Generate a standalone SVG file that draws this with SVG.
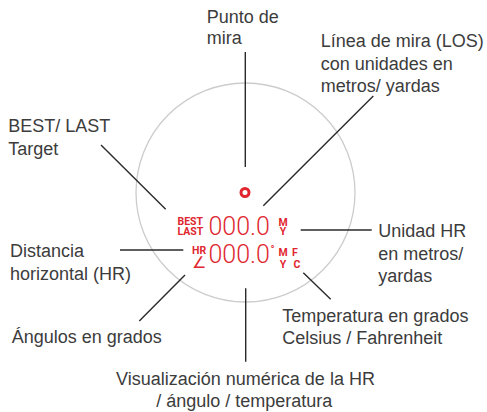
<svg xmlns="http://www.w3.org/2000/svg" width="487" height="412" viewBox="0 0 487 412">
<style>
.lbl{font-family:"Liberation Sans",Arial,sans-serif;font-size:18px;fill:#3c3c3c}
.ld{stroke:#2a2a2a;stroke-width:1.4;fill:none}
.big{font-family:Roboto,"Liberation Sans",sans-serif;font-size:25px;font-weight:300;fill:#e0262f}
.sm{font-family:Roboto,"Liberation Sans",sans-serif;font-size:10.5px;font-weight:700;fill:#e0262f}
</style>
<rect width="487" height="412" fill="#ffffff"/>
<g id="display">
<circle cx="245.5" cy="192.5" r="109.5" fill="none" stroke="#cccccc" stroke-width="1.3"/>
<circle cx="245" cy="192.5" r="4" fill="none" stroke="#e0262f" stroke-width="3"/>
<text class="sm"><tspan x="177.5" y="225">BEST</tspan><tspan x="177.5" y="234.5">LAST</tspan></text>
<text class="big" x="208.5" y="234.5">000.0</text>
<text class="sm" text-anchor="middle"><tspan x="283" y="225.5">M</tspan><tspan x="283" y="235">Y</tspan></text>
<text><tspan class="sm" x="192" y="253.5">HR</tspan><tspan x="192" y="268" style="font-family:'DejaVu Sans',sans-serif;font-size:16px;font-weight:300;fill:#e0262f">∠</tspan></text>
<text class="big" x="208.5" y="262.5">000.0</text>
<text class="sm" x="270.5" y="253">°</text>
<text class="sm" text-anchor="middle"><tspan x="283" y="255.5">M</tspan><tspan x="295" y="255.5">F</tspan><tspan x="283" y="267.5">Y</tspan><tspan x="297" y="267.5">C</tspan></text>
</g>
<g id="connectors">
<line class="ld" x1="245.3" y1="52" x2="245.3" y2="167"/>
<line class="ld" x1="101" y1="145" x2="165.7" y2="209.3"/>
<line class="ld" x1="373.3" y1="96" x2="263.3" y2="205.7"/>
<line class="ld" x1="300.7" y1="230" x2="371.7" y2="230"/>
<line class="ld" x1="120" y1="250" x2="183.3" y2="250"/>
<line class="ld" x1="185" y1="275" x2="139.3" y2="321"/>
<line class="ld" x1="303.3" y1="272.7" x2="330.7" y2="299.3"/>
<line class="ld" x1="245.7" y1="288.3" x2="245.7" y2="361.7"/>
</g>
<g id="label-punto">
<text class="lbl" x="206.7" y="23.3">Punto de</text>
<text class="lbl" x="206.7" y="44.3">mira</text>
</g>
<g id="label-los">
<text class="lbl" x="320.7" y="46.7">Línea de mira (LOS)</text>
<text class="lbl" x="320.7" y="69.5">con unidades en</text>
<text class="lbl" x="320.7" y="92.3">metros/ yardas</text>
</g>
<g id="label-best">
<text class="lbl" x="8.3" y="131.7">BEST/ LAST</text>
<text class="lbl" x="8.3" y="154.5">Target</text>
</g>
<g id="label-unidad">
<text class="lbl" x="378.3" y="236.7">Unidad HR</text>
<text class="lbl" x="378.3" y="259.5">en metros/</text>
<text class="lbl" x="378.3" y="282.3">yardas</text>
</g>
<g id="label-distancia">
<text class="lbl" x="10" y="256.7">Distancia</text>
<text class="lbl" x="10" y="279.5">horizontal (HR)</text>
</g>
<g id="label-angulos">
<text class="lbl" x="11.7" y="343.3">Ángulos en grados</text>
</g>
<g id="label-temp">
<text class="lbl" x="282.3" y="321.7">Temperatura en grados</text>
<text class="lbl" x="282.3" y="344.3">Celsius / Fahrenheit</text>
</g>
<g id="label-visual">
<text class="lbl" x="245.5" y="385" text-anchor="middle">Visualización numérica de la HR</text>
<text class="lbl" x="244.2" y="406.7" text-anchor="middle">/ ángulo / temperatura</text>
</g>
</svg>
